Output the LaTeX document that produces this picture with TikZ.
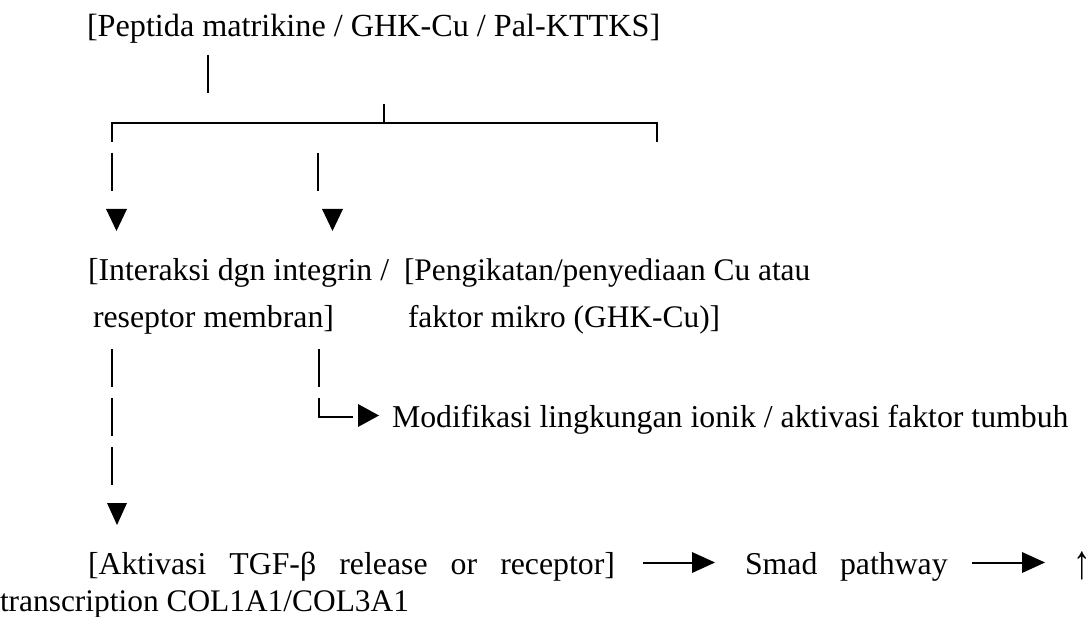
\documentclass[tikz,border=0pt]{standalone}
\usepackage{fontspec}
\setmainfont{Liberation Serif}
\begin{document}
\begin{tikzpicture}[x=1pt,y=-1pt,
  txt/.style={anchor=base west, inner sep=0pt, outer sep=0pt, font=\fontsize{31.8}{36}\selectfont},
  big/.style={font=\fontsize{32.2}{36}\selectfont},
  small/.style={font=\fontsize{31.4}{36}\selectfont},
  ln/.style={line width=2pt},
  tri/.style={fill=black}]
\useasboundingbox (0,0) rectangle (1091,617);
% texts
\node[txt,big] (top) at (87,37) {[Peptida matrikine / GHK-Cu / Pal-KTTKS]};
\node[txt] (inter1) at (88,280) {[Interaksi dgn integrin /};
\node[txt] (inter2) at (93,327) {reseptor membran]};
\node[txt,small] (peng1) at (404,280) {[Pengikatan/penyediaan Cu atau};
\node[txt,small] (peng2) at (408,327) {faktor mikro (GHK-Cu)]};
\node[txt] (modif) at (392,427) {Modifikasi lingkungan ionik / aktivasi faktor tumbuh};
\node[txt] (aktiv) at (88,574) {\makebox[527pt][s]{[Aktivasi TGF-β release or receptor]}};
\node[txt] (smad) at (745,574) {Smad};
\node[txt] (path) at (840,574) {pathway};
\node[txt] (up) at (1073,574) {\raisebox{-4pt}{\scalebox{1.1}[1.5]{↑}}};
\node[txt,small] (trans) at (0,611) {transcription COL1A1/COL3A1};
% coordinates
\coordinate (a1) at (208,55); \coordinate (a2) at (208,93);
\coordinate (t1) at (384,104); \coordinate (t2) at (384,123);
\coordinate (bl) at (112,142); \coordinate (br) at (657,142); \coordinate (brt) at (657,123);
\coordinate (v1a) at (112,153); \coordinate (v1b) at (112,191);
\coordinate (v2a) at (318,153); \coordinate (v2b) at (318,191);
\coordinate (l1a) at (112,349); \coordinate (l1b) at (112,387);
\coordinate (l2a) at (112,398); \coordinate (l2b) at (112,436);
\coordinate (l3a) at (112,447); \coordinate (l3b) at (112,485);
\coordinate (r1a) at (319,349); \coordinate (r1b) at (319,387);
\coordinate (r2a) at (319,398); \coordinate (r2b) at (353,417);
\coordinate (d1a) at (643,563); \coordinate (d1b) at (692,563);
\coordinate (d2a) at (972,563); \coordinate (d2b) at (1022,563);
% lines
\draw[ln] (a1) -- (a2);
\draw[ln] (t1) -- (t2);
\draw[ln] (bl) |- (brt) -- (br);
\draw[ln] (v1a) -- (v1b);
\draw[ln] (v2a) -- (v2b);
\draw[ln] (l1a) -- (l1b);
\draw[ln] (l2a) -- (l2b);
\draw[ln] (l3a) -- (l3b);
\draw[ln] (r1a) -- (r1b);
\draw[ln] (r2a) |- (r2b);
\draw[ln] (d1a) -- (d1b);
\draw[ln] (d2a) -- (d2b);
% triangles
\fill (106,209) -- (127,209) -- (116.5,231) -- cycle;
\fill (322,209) -- (343,209) -- (332.5,231) -- cycle;
\fill (107,503) -- (127,503) -- (117,525) -- cycle;
\fill (358,404) -- (358,427) -- (379,415.5) -- cycle;
\fill (692,552) -- (692,573) -- (715,562.5) -- cycle;
\fill (1022,552) -- (1022,573) -- (1045,562.5) -- cycle;
\end{tikzpicture}
\end{document}
